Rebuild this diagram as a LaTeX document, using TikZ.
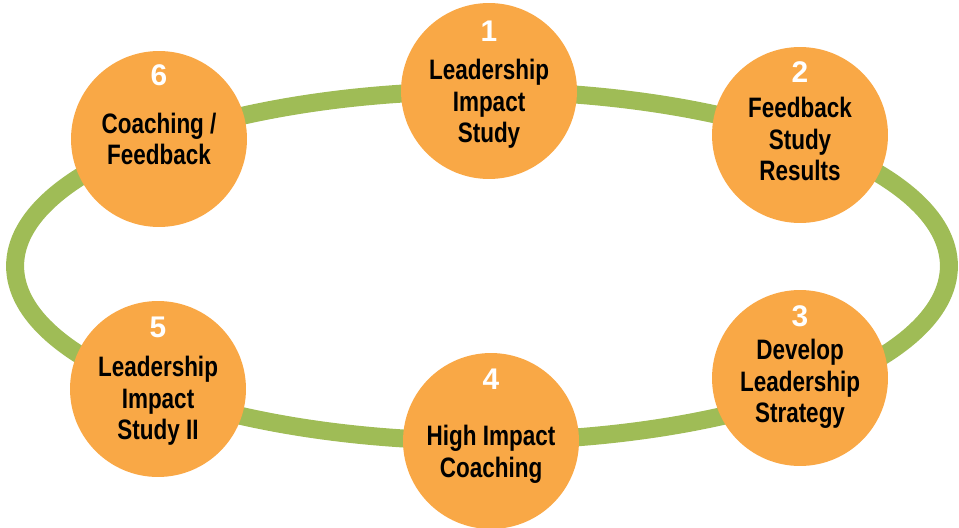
\documentclass[tikz,border=0pt]{standalone}
\usepackage{fontspec}
\setmainfont[FakeStretch=0.8]{Liberation Sans}
\newfontfamily\numfont{Liberation Sans}
\usepackage{tikz}
\usepackage{xcolor}
\usetikzlibrary{positioning}

\definecolor{stepOrange}{HTML}{F9A846}
\definecolor{ringGreen}{HTML}{9FBC56}

\tikzset{
  stepcircle/.style={circle, fill=stepOrange, minimum size=3.52cm, inner sep=0pt},
  stepnum/.style={text=white, font=\numfont\fontsize{17}{17}\selectfont\bfseries},
  steptext/.style={align=center, font=\fontsize{16}{18}\selectfont\bfseries}
}

\begin{document}
\begin{tikzpicture}[x=0.02cm, y=-0.02cm]
                                \useasboundingbox (0, 0) rectangle (959, 527);
                                % the ring
                                \draw[ringGreen, line width=0.36cm] (482, 266) ellipse [x radius=9.34cm, y radius=3.5cm];

                                % the six steps
                                \node[stepcircle] (s1) at (489, 91) {};
                                \node[stepcircle] (s2) at (800, 135) {};
                                \node[stepcircle] (s3) at (800, 378) {};
                                \node[stepcircle] (s4) at (491, 441) {};
                                \node[stepcircle] (s5) at (158, 389) {};
                                \node[stepcircle] (s6) at (159, 139) {};

                                \node[stepnum] (n1) at ([yshift=1.2cm]s1.center) {1};
                                \node[stepnum] (n2) at ([yshift=1.26cm]s2.center) {2};
                                \node[stepnum] (n3) at ([yshift=1.24cm]s3.center) {3};
                                \node[stepnum] (n4) at ([yshift=1.24cm]s4.center) {4};
                                \node[stepnum] (n5) at ([yshift=1.24cm]s5.center) {5};
                                \node[stepnum] (n6) at ([yshift=1.28cm]s6.center) {6};

                                \node[steptext] (t1) at ([yshift=-0.26cm]s1.center) {Leadership\\Impact\\Study};
                                \node[steptext] (t2) at ([yshift=-0.08cm]s2.center) {Feedback\\Study\\Results};
                                \node[steptext] (t3) at ([yshift=-0.12cm]s3.center) {Develop\\Leadership\\Strategy};
                                \node[steptext] (t4) at ([yshift=-0.26cm]s4.center) {High Impact\\Coaching};
                                \node[steptext] (t5) at ([yshift=-0.24cm]s5.center) {Leadership\\Impact\\Study II};
                                \node[steptext] (t6) at (s6.center) {Coaching /\\Feedback};
                            \end{tikzpicture}
\end{document}
